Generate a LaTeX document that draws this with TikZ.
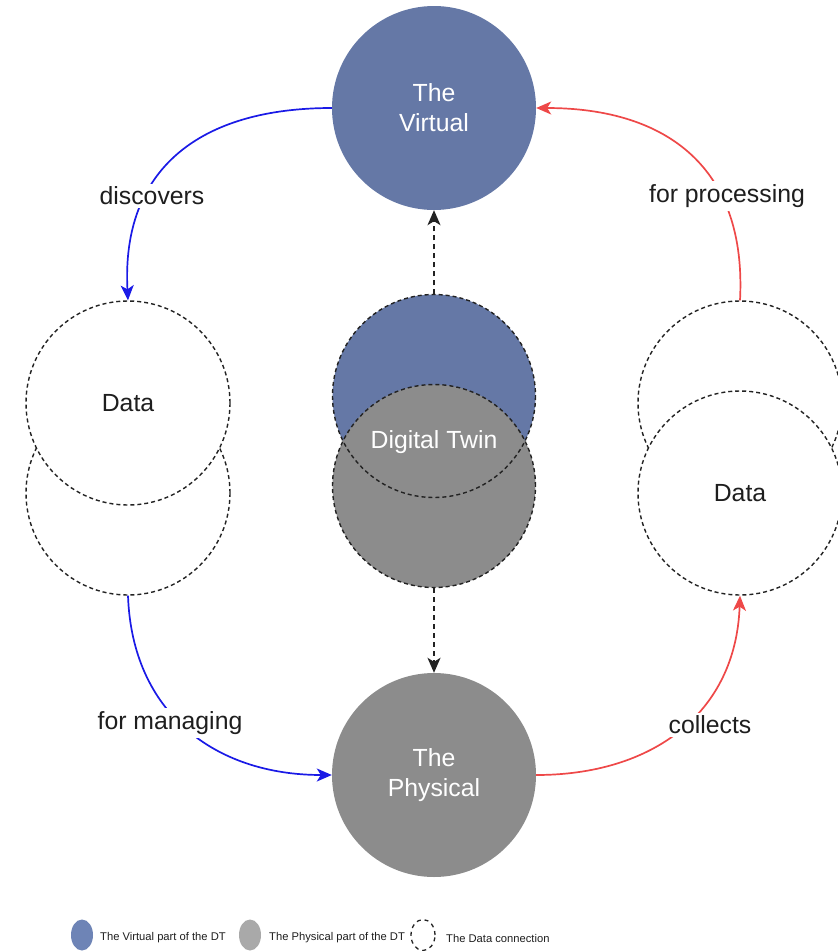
\documentclass[tikz,border=0pt]{standalone}
\usepackage{fontspec}
\setmainfont{Liberation Sans}
\usetikzlibrary{arrows.meta,shapes.geometric}
\definecolor{virt}{HTML}{6578A6}
\definecolor{phys}{HTML}{8C8C8C}
\definecolor{legvirt}{HTML}{6E84B6}
\definecolor{legphys}{HTML}{A9A9A9}
\definecolor{dashc}{HTML}{222222}
\definecolor{txt}{HTML}{1E1E1E}
\definecolor{arrblue}{HTML}{1A1AE6}
\definecolor{arrred}{HTML}{EE4848}
\begin{document}
\begin{tikzpicture}[x=1pt,y=-1pt,
  bigfont/.style={font=\fontsize{24.8}{30}\selectfont},
  solidcirc/.style={circle, minimum size=204pt, inner sep=0pt, text=white, align=center, bigfont},
  dashline/.style={draw=dashc, line width=1.4pt, dash pattern=on 4pt off 3pt},
  datacirc/.style={circle, minimum size=204pt, inner sep=0pt, dashline, fill=white, text=txt, bigfont},
  lbl/.style={fill=white, inner sep=3pt, text=txt, bigfont},
  tip/.style={-{Stealth[length=15pt,width=13pt,inset=4pt]}},
  bluearr/.style={draw=arrblue, line width=1.7pt, tip},
  redarr/.style={draw=arrred, line width=1.7pt, tip},
  dasharr/.style={draw=dashc, line width=1.7pt, dash pattern=on 5pt off 4pt, tip},
  legtext/.style={anchor=west, text=txt, font=\fontsize{11.2}{14}\selectfont, inner sep=0pt}
]
\useasboundingbox (0,0) rectangle (838,951);

% main circles
\node[solidcirc, fill=virt] (V) at (434,108) {The\\Virtual};
\node[solidcirc, fill=phys] (P) at (434,775) {The\\Physical};

% digital twin
\node[circle, minimum size=203pt, inner sep=0pt, fill=virt] (DTv) at (434,396) {};
\node[circle, minimum size=203pt, inner sep=0pt, fill=phys, dashline] (DTp) at (434,486) {};
\draw[dashline] (DTv.center) circle[radius=101.5];
\node[text=white, bigfont] (DTt) at (434,442) {Digital Twin};

% left data
\node[datacirc] (DLb) at (128,493) {};
\node[datacirc] (DLt) at (128,403) {Data};
% right data
\node[datacirc] (DRt) at (740,403) {};
\node[datacirc] (DRb) at (740,493) {Data};

% arrows
\draw[bluearr] (V.west) to[out=180,in=93,looseness=1.2] (DLt.north);
\draw[bluearr] (DLb.south) to[out=-88,in=180,looseness=1.1] (P.west);
\draw[redarr] (P.east) to[out=0,in=-92,looseness=1.1] (DRb.south);
\draw[redarr] (DRt.north) to[out=87,in=0,looseness=1.2] (V.east);
\draw[dasharr] (DTv.north) -- (V.south);
\draw[dasharr] (DTp.south) -- (P.north);

% labels
\node[lbl] (l1) at (152,196) {discovers};
\node[lbl] (l2) at (170,723) {for managing};
\node[lbl] (l3) at (710,725) {collects};
\node[lbl] (l4) at (727,196) {for processing};

% legend
\node[ellipse, minimum width=22pt, minimum height=31pt, inner sep=0pt, fill=legvirt] (L1) at (82,935) {};
\node[legtext] (L1t) at (100,938) {The Virtual part of the DT};
\node[ellipse, minimum width=22pt, minimum height=31pt, inner sep=0pt, fill=legphys] (L2) at (250,935) {};
\node[legtext] (L2t) at (269,938) {The Physical part of the DT};
\node[ellipse, minimum width=24pt, minimum height=31pt, inner sep=0pt, draw=dashc, line width=1.3pt, dash pattern=on 4pt off 4pt] (L3) at (423,935) {};
\node[legtext] (L3t) at (446,938) {The Data connection};
\end{tikzpicture}
\end{document}
